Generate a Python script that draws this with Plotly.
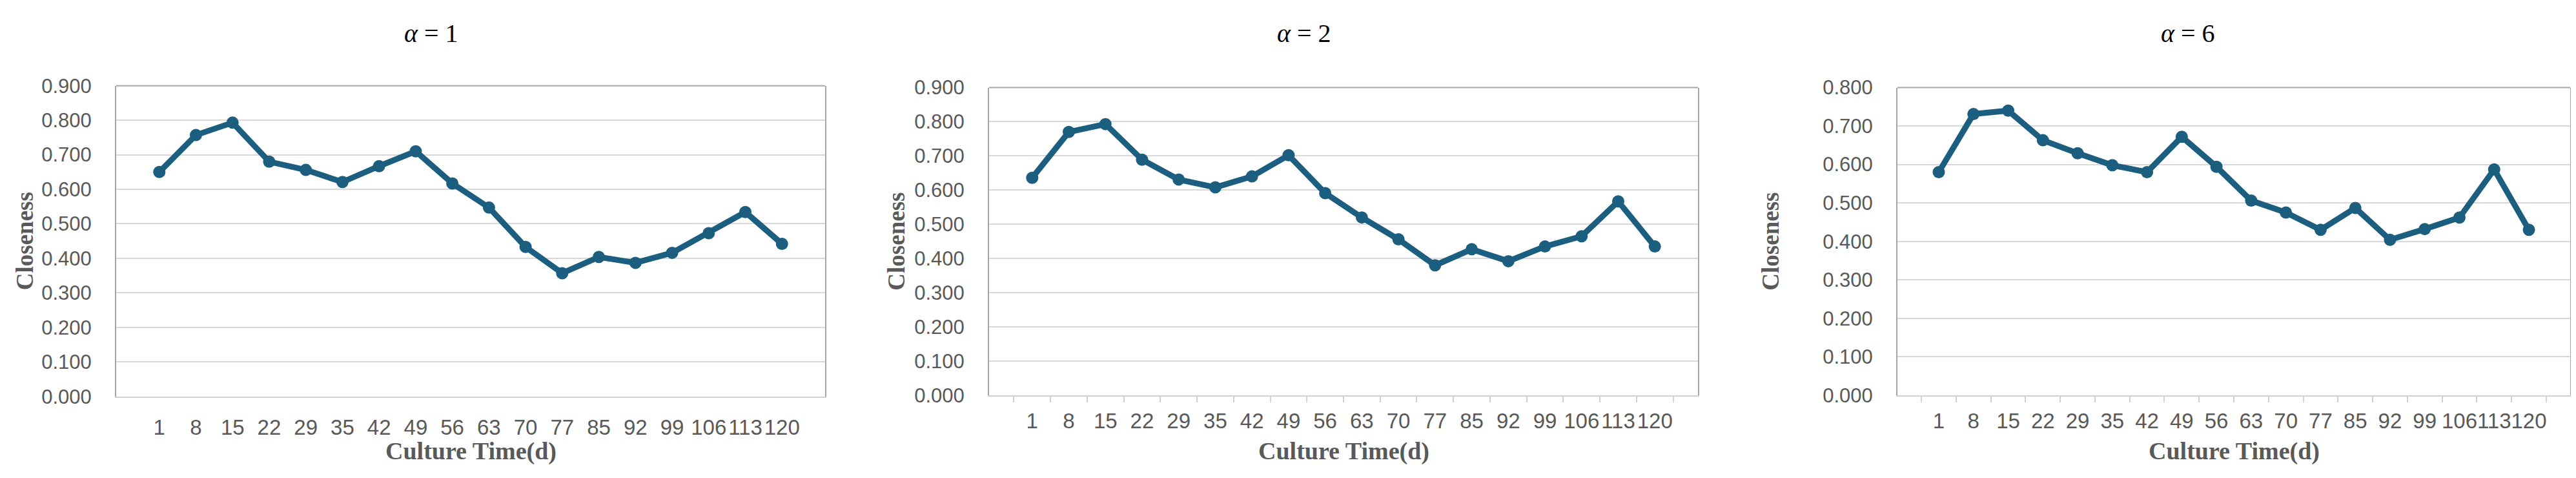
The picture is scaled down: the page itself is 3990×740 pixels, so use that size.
import plotly.graph_objects as go

# dados (tempo de cultura em dias x closeness)
dias = ['1', '8', '15', '22', '29', '35', '42', '49', '56', '63',
        '70', '77', '85', '92', '99', '106', '113', '120']

alfa1 = [0.650, 0.757, 0.793, 0.680, 0.656, 0.621, 0.667, 0.710, 0.617,
         0.547, 0.433, 0.357, 0.404, 0.387, 0.416, 0.473, 0.534, 0.442]
alfa2 = [0.636, 0.770, 0.793, 0.689, 0.631, 0.608, 0.640, 0.702, 0.591,
         0.520, 0.456, 0.380, 0.427, 0.392, 0.435, 0.465, 0.567, 0.435]
alfa6 = [0.580, 0.731, 0.740, 0.663, 0.629, 0.598, 0.580, 0.672, 0.594,
         0.506, 0.475, 0.430, 0.487, 0.404, 0.432, 0.462, 0.587, 0.430]

titulos = ['1', '2', '6']
series = [alfa1, alfa2, alfa6]
y_max = [0.9, 0.9, 0.8]

W, H = 3990, 740
# areas de plotagem em pixels (esq, dir, topo, base)
areas = [(172, 1270, 113, 618), (1524, 2622, 116, 616), (2931, 3973, 116, 616)]
tit_x = [660, 2012, 3381]
ytit_x = [30, 1381, 2735]

cor = '#1b5e7f'
cinza = '#595959'

fig = go.Figure()
for i, (ys, area) in enumerate(zip(series, areas)):
    n = '' if i == 0 else str(i + 1)
    x0, x1, t, b = area
    fig.add_trace(go.Scatter(x=dias, y=ys, mode='lines+markers',
                             line=dict(color=cor, width=9),
                             marker=dict(color=cor, size=19),
                             xaxis='x' + n, yaxis='y' + n, showlegend=False))
    dom_x = [x0 / W, x1 / W]
    dom_y = [1 - b / H, 1 - t / H]
    com_ticks = i > 0
    fig.layout['xaxis' + n] = dict(
        domain=dom_x, anchor='y' + n, type='category', tickangle=0,
        showline=True, linecolor='#d0d0d0', linewidth=2,
        showgrid=False, zeroline=False,
        ticks='outside' if com_ticks else '', tickson='boundaries',
        ticklen=9, tickcolor='#d0d0d0', tickwidth=2,
        ticklabelstandoff=10 if com_ticks else 18,
        tickfont=dict(family='Liberation Sans, Arial', size=33, color=cinza))
    fig.layout['yaxis' + n] = dict(
        domain=dom_y, anchor='x' + n, range=[0, y_max[i]], dtick=0.1,
        tickformat='.3f', showline=True, linecolor='#a6a6a6', linewidth=2,
        mirror=True, showgrid=True, gridcolor='#d9d9d9', gridwidth=2,
        zeroline=False, ticks='', ticklabelstandoff=30,
        tickfont=dict(family='Liberation Sans, Arial', size=31, color=cinza))
    # linha superior da caixa
    fig.add_shape(type='line', xref='paper', yref='paper',
                  x0=dom_x[0], x1=dom_x[1], y0=dom_y[1], y1=dom_y[1],
                  line=dict(color='#a6a6a6', width=2))
    # titulo alfa
    fig.add_annotation(text='<i>α</i> = ' + titulos[i], xref='paper', yref='paper',
                       x=tit_x[i] / W, y=1 - 28 / H, showarrow=False,
                       xanchor='center', yanchor='middle',
                       font=dict(family='Liberation Serif, Times New Roman', size=40, color='black'))
    # titulos dos eixos
    fig.add_annotation(text='<b>Closeness</b>', xref='paper', yref='paper',
                       x=ytit_x[i] / W, y=1 - ((t + b) / 2) / H, showarrow=False, textangle=-90,
                       xanchor='center', yanchor='middle',
                       font=dict(family='Liberation Serif, Times New Roman', size=37, color=cinza))
    fig.add_annotation(text='<b>Culture Time(d)</b>', xref='paper', yref='paper',
                       x=((x0 + x1) / 2) / W, y=1 - 707 / H, showarrow=False,
                       xanchor='center', yanchor='middle',
                       font=dict(family='Liberation Serif, Times New Roman', size=38, color=cinza))

fig.update_layout(width=W, height=H, margin=dict(l=0, r=0, t=0, b=0),
                  paper_bgcolor='white', plot_bgcolor='white')

fig.write_html('out.html')
